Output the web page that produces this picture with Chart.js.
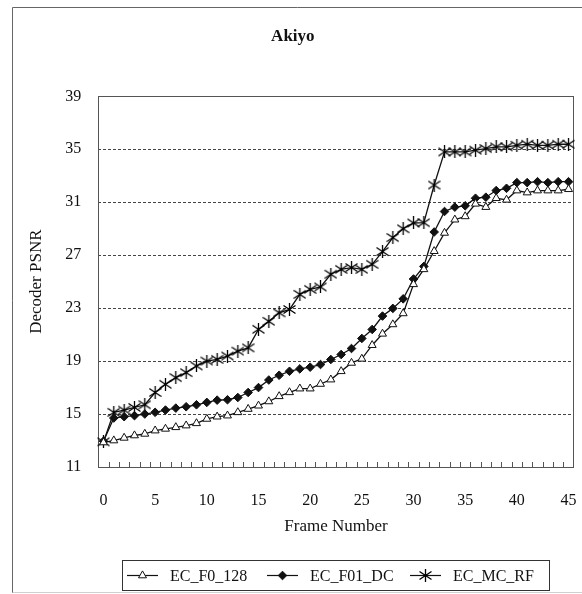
<!DOCTYPE html>
<html>
<head>
<meta charset="utf-8">
<title>Akiyo</title>
<script src="https://cdn.jsdelivr.net/npm/chart.js@4/dist/chart.umd.min.js"></script>
<style>
    body { margin: 0; background: #fff; }
    canvas { display: block; }
</style>
</head>
<body>
<canvas id="psnrChart" width="582" height="594"></canvas>
<script>
// frame numbers (categories)
const frames = [0, 1, 2, 3, 4, 5, 6, 7, 8, 9, 10, 11, 12, 13, 14, 15, 16, 17, 18, 19, 20, 21, 22,
    23, 24, 25, 26, 27, 28, 29, 30, 31, 32, 33, 34, 35, 36, 37, 38, 39, 40, 41, 42, 43, 44, 45];
const xTickLabels = ['0', '5', '10', '15', '20', '25', '30', '35', '40', '45'];
const yTicks = [11, 15, 19, 23, 27, 31, 35, 39];

const ecF0128 = [12.85, 13.0, 13.2, 13.38, 13.5, 13.75, 13.88, 14.0, 14.13, 14.3, 14.63, 14.8, 14.88,
    15.13, 15.38, 15.63, 15.95, 16.34, 16.64, 16.92, 16.92, 17.27, 17.6, 18.23, 18.86, 19.17, 20.2,
    21.06, 21.77, 22.6, 24.8, 25.93, 27.3, 28.68, 29.68, 29.93, 30.88, 30.63, 31.3, 31.18, 31.88,
    31.73, 31.88, 31.88, 31.88, 31.98];
const ecF01Dc = [12.95, 14.7, 14.8, 14.88, 15.0, 15.13, 15.3, 15.45, 15.55, 15.7, 15.88, 16.05, 16.08,
    16.25, 16.63, 17.0, 17.57, 17.93, 18.23, 18.41, 18.54, 18.74, 19.12, 19.5, 19.95, 20.71, 21.39,
    22.4, 22.98, 23.7, 25.2, 26.15, 28.75, 30.3, 30.63, 30.73, 31.3, 31.38, 31.88, 32.05, 32.48,
    32.48, 32.55, 32.48, 32.55, 32.55];
const ecMcRf = [12.9, 15.13, 15.3, 15.5, 15.7, 16.63, 17.25, 17.75, 18.13, 18.63, 19.0, 19.13, 19.38,
    19.75, 20.0, 21.4, 22.0, 22.65, 22.9, 24.04, 24.42, 24.6, 25.56, 25.93, 26.06, 25.93, 26.31,
    27.27, 28.33, 29.0, 29.43, 29.45, 32.3, 34.8, 34.8, 34.8, 34.93, 35.05, 35.18, 35.18, 35.3,
    35.38, 35.3, 35.3, 35.38, 35.38];

const FONT = "'Liberation Serif', 'Times New Roman', serif";

const app = {

    // Excel style star marker: an X plus a vertical bar
    makeStar: function() {
        const c = document.createElement('canvas');
        c.width = 13;
        c.height = 13;
        const g = c.getContext('2d');
        g.strokeStyle = '#000';
        g.lineWidth = 1.3;
        g.beginPath();
        g.moveTo(6.5, 0); g.lineTo(6.5, 13);
        g.moveTo(0.5, 2.5); g.lineTo(12.5, 10.5);
        g.moveTo(0.5, 10.5); g.lineTo(12.5, 2.5);
        g.stroke();
        return c;
    },

    // frame around the whole picture, the plot box and the inward tick marks
    framePlugin: {
        id: 'frame',
        beforeDraw: function(chart) {
            const ctx = chart.ctx;
            ctx.save();
            ctx.fillStyle = '#fff';
            ctx.fillRect(0, 0, chart.width, chart.height);
            ctx.strokeStyle = '#666';
            ctx.lineWidth = 1;
            ctx.beginPath();
            ctx.moveTo(12.5, 593);
            ctx.lineTo(12.5, 7.5);
            ctx.lineTo(chart.width, 7.5);
            ctx.stroke();
            ctx.strokeStyle = '#d0d0d0';
            ctx.beginPath();
            ctx.moveTo(12.5, 592.5);
            ctx.lineTo(chart.width, 592.5);
            ctx.stroke();
            ctx.restore();
        },
        beforeDatasetsDraw: function(chart) {
            const ctx = chart.ctx;
            const a = chart.chartArea;
            const xs = chart.scales.x;
            ctx.save();
            ctx.strokeStyle = '#555';
            ctx.lineWidth = 1;
            ctx.strokeRect(Math.round(a.left) + 0.5, Math.round(a.top) + 0.5,
                Math.round(a.right - a.left), Math.round(a.bottom - a.top));
            const step = xs.getPixelForValue(1) - xs.getPixelForValue(0);
            ctx.beginPath();
            for (let i = 1; i < frames.length; i++) {
                const x = Math.round(xs.getPixelForValue(i) - step / 2) + 0.5;
                ctx.moveTo(x, a.bottom);
                ctx.lineTo(x, a.bottom - 5);
            }
            ctx.stroke();
            ctx.restore();
        }
    },

    // boxed legend under the axis, line sample with marker like the original
    legendPlugin: {
        id: 'boxLegend',
        afterDraw: function(chart) {
            const ctx = chart.ctx;
            const box = { left: 122.5, top: 560.5, right: 549.5, bottom: 590.5 };
            const itemX = [127, 267, 410];
            const lineLen = 31;
            const cy = 575.5;
            ctx.save();
            ctx.strokeStyle = '#333';
            ctx.lineWidth = 1;
            ctx.strokeRect(box.left, box.top, box.right - box.left, box.bottom - box.top);
            ctx.font = '16px ' + FONT;
            ctx.textBaseline = 'middle';
            chart.data.datasets.forEach(function(ds, i) {
                const x0 = itemX[i];
                ctx.strokeStyle = '#111';
                ctx.lineWidth = 1.2;
                ctx.beginPath();
                ctx.moveTo(x0, cy);
                ctx.lineTo(x0 + lineLen, cy);
                ctx.stroke();
                ctx.fillStyle = ds.pointBackgroundColor;
                ctx.strokeStyle = ds.pointBorderColor;
                ctx.lineWidth = 1;
                Chart.helpers.drawPoint(ctx, {
                    pointStyle: ds.pointStyle,
                    radius: ds.pointRadius,
                    rotation: 0,
                    borderWidth: 1
                }, x0 + lineLen / 2, cy);
                ctx.fillStyle = '#111';
                ctx.fillText(ds.label, x0 + lineLen + 12, cy + 1);
            });
            ctx.restore();
        }
    },

    drawChart: function() {
        const star = this.makeStar();

        const data = {
            labels: frames,
            datasets: [{
                label: 'EC_F0_128',
                data: ecF0128,
                borderColor: '#111',
                borderWidth: 1.3,
                pointStyle: 'triangle',
                pointRadius: 4.6,
                pointBackgroundColor: '#fff',
                pointBorderColor: '#111',
                pointBorderWidth: 1
            }, {
                label: 'EC_F01_DC',
                data: ecF01Dc,
                borderColor: '#111',
                borderWidth: 1.3,
                pointStyle: 'rectRot',
                pointRadius: 4.3,
                pointBackgroundColor: '#111',
                pointBorderColor: '#111',
                pointBorderWidth: 1
            }, {
                label: 'EC_MC_RF',
                data: ecMcRf,
                borderColor: '#111',
                borderWidth: 1.3,
                pointStyle: star,
                pointRadius: 6,
                pointBackgroundColor: '#111',
                pointBorderColor: '#111',
                pointBorderWidth: 1
            }]
        };

        const config = {
            type: 'line',
            data: data,
            options: {
                responsive: false,
                animation: false,
                devicePixelRatio: 1,
                layout: {
                    padding: { left: 12, right: 8.3, top: 8, bottom: 49 }
                },
                elements: {
                    line: { tension: 0 }
                },
                plugins: {
                    legend: { display: false },
                    tooltip: { enabled: false },
                    title: {
                        display: true,
                        text: 'Akiyo',
                        color: '#111',
                        font: { family: FONT, size: 17, weight: 'bold' },
                        padding: { top: 18.8, bottom: 49.1 }
                    }
                },
                scales: {
                    x: {
                        type: 'category',
                        offset: true,
                        grid: { display: false },
                        border: { display: false },
                        ticks: {
                            autoSkip: false,
                            maxRotation: 0,
                            padding: 3,
                            color: '#111',
                            // tall line box pushes the labels down without widening the side padding
                            font: { family: FONT, size: 16, lineHeight: 2.9 },
                            callback: function(value) {
                                const lbl = String(this.getLabelForValue(value));
                                return xTickLabels.includes(lbl) ? lbl : '';
                            }
                        },
                        title: {
                            display: true,
                            text: 'Frame Number',
                            color: '#111',
                            font: { family: FONT, size: 17 },
                            padding: { top: 0, bottom: 7.8 }
                        },
                        afterFit: function(scale) { scale.height = 78; }
                    },
                    y: {
                        min: yTicks[0],
                        max: yTicks[yTicks.length - 1],
                        afterBuildTicks: function(scale) {
                            scale.ticks = yTicks.map(v => ({ value: v }));
                        },
                        grid: {
                            drawTicks: false,
                            color: function(c) {
                                const v = c.tick.value;
                                return (v === yTicks[0] || v === yTicks[yTicks.length - 1]) ? 'rgba(0,0,0,0)' : '#444';
                            },
                            lineWidth: 1
                        },
                        border: { display: false, dash: [3, 2] },
                        ticks: {
                            padding: 17,
                            color: '#111',
                            font: { family: FONT, size: 16 }
                        },
                        title: {
                            display: true,
                            text: 'Decoder PSNR',
                            color: '#111',
                            font: { family: FONT, size: 17 },
                            padding: { top: 14.3, bottom: 0 }
                        },
                        afterFit: function(scale) { scale.width = 86.3; }
                    }
                }
            },
            plugins: [this.framePlugin, this.legendPlugin]
        };

        new Chart(document.getElementById('psnrChart'), config);
    },

    start: function() {
        this.drawChart();
    }
};

app.start();
</script>
</body>
</html>
